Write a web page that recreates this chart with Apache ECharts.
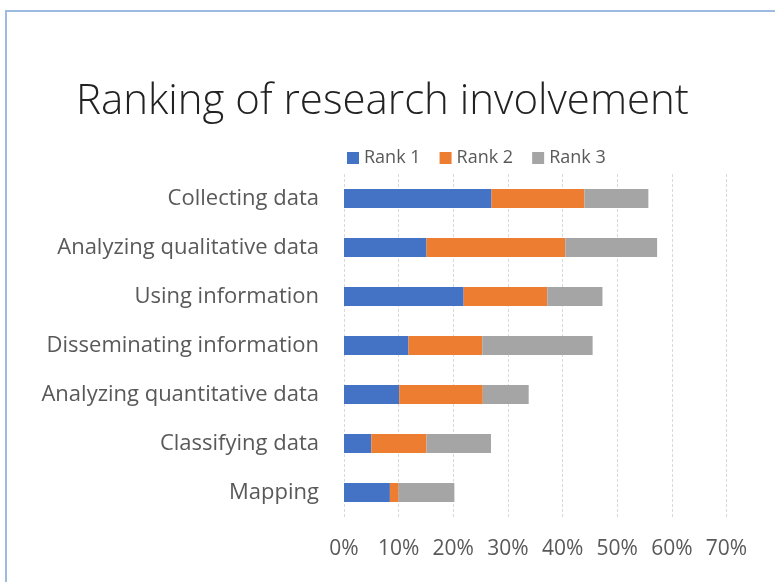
<!DOCTYPE html>
<html>
<head>
<meta charset="utf-8">
<script src="https://cdn.jsdelivr.net/npm/echarts@6/dist/echarts.min.js"></script>
<style>
  html, body { margin: 0; padding: 0; background: #fff; }
  #frame {
    position: absolute; left: 5px; top: 10px; width: 780px; height: 580px;
    border-left: 2px solid #9dbbe0; border-top: 2px solid #9dbbe0;
    box-sizing: border-box;
  }
  #chart { position: absolute; left: 0; top: 0; width: 775px; height: 582px; }
</style>
</head>
<body>
<div id="frame"></div>
<div id="chart"></div>
<script>
// categories, top to bottom
const categories = [
  "Collecting data",
  "Analyzing qualitative data",
  "Using information",
  "Disseminating information",
  "Analyzing quantitative data",
  "Classifying data",
  "Mapping"
];
// shares in %
const rank1 = [27.0, 15.1, 21.9, 11.8, 10.1, 5.0, 8.4];
const rank2 = [17.0, 25.4, 15.3, 13.5, 15.3, 10.1, 1.6];
const rank3 = [11.7, 16.8, 10.1, 20.2, 8.4, 11.8, 10.2];
const tickValues = [0, 10, 20, 30, 40, 50, 60, 70];

const font = "'Open Sans', 'Noto Sans', sans-serif";
const labelColor = "#595959";

let myChart = echarts.init(document.getElementById("chart"));

function bar(name, data, color) {
  return {
    name: name,
    type: "bar",
    stack: "total",
    barWidth: 19,
    data: data,
    itemStyle: { color: color },
  };
}

let option = {
  backgroundColor: "rgba(0,0,0,0)",
  animation: false,
  title: {
    text: "Ranking of research involvement",
    left: 71,
    top: 76,
    textStyle: {
      fontFamily: font,
      fontWeight: 300,
      fontSize: 42,
      color: "#222",
    },
  },
  legend: {
    data: ["Rank 1", "Rank 2", "Rank 3"],
    left: 342,
    top: 144,
    itemWidth: 12,
    itemHeight: 12,
    itemGap: 19,
    icon: "rect",
    textStyle: { fontFamily: font, fontSize: 18, color: labelColor },
  },
  grid: {
    left: 344,
    right: 48.5,
    top: 174,
    bottom: 65,
    containLabel: false,
  },
  xAxis: {
    type: "value",
    min: 0,
    max: 70,
    interval: 10,
    axisLine: { show: false },
    axisTick: { show: false },
    axisLabel: {
      margin: 22,
      fontFamily: font,
      fontSize: 21,
      color: labelColor,
      formatter: (v) => (tickValues.includes(v) ? v + "%" : ""),
    },
    splitLine: {
      show: true,
      lineStyle: { color: "#d9d9d9", type: [3, 2], width: 1 },
    },
  },
  yAxis: {
    type: "category",
    inverse: true,
    data: categories,
    axisLine: { show: false },
    axisTick: { show: false },
    axisLabel: {
      margin: 25,
      fontFamily: font,
      fontSize: 22,
      color: labelColor,
    },
  },
  series: [
    bar("Rank 1", rank1, "#4472C4"),
    bar("Rank 2", rank2, "#ED7D31"),
    bar("Rank 3", rank3, "#A5A5A5"),
  ],
};
myChart.setOption(option);
</script>
</body>
</html>
